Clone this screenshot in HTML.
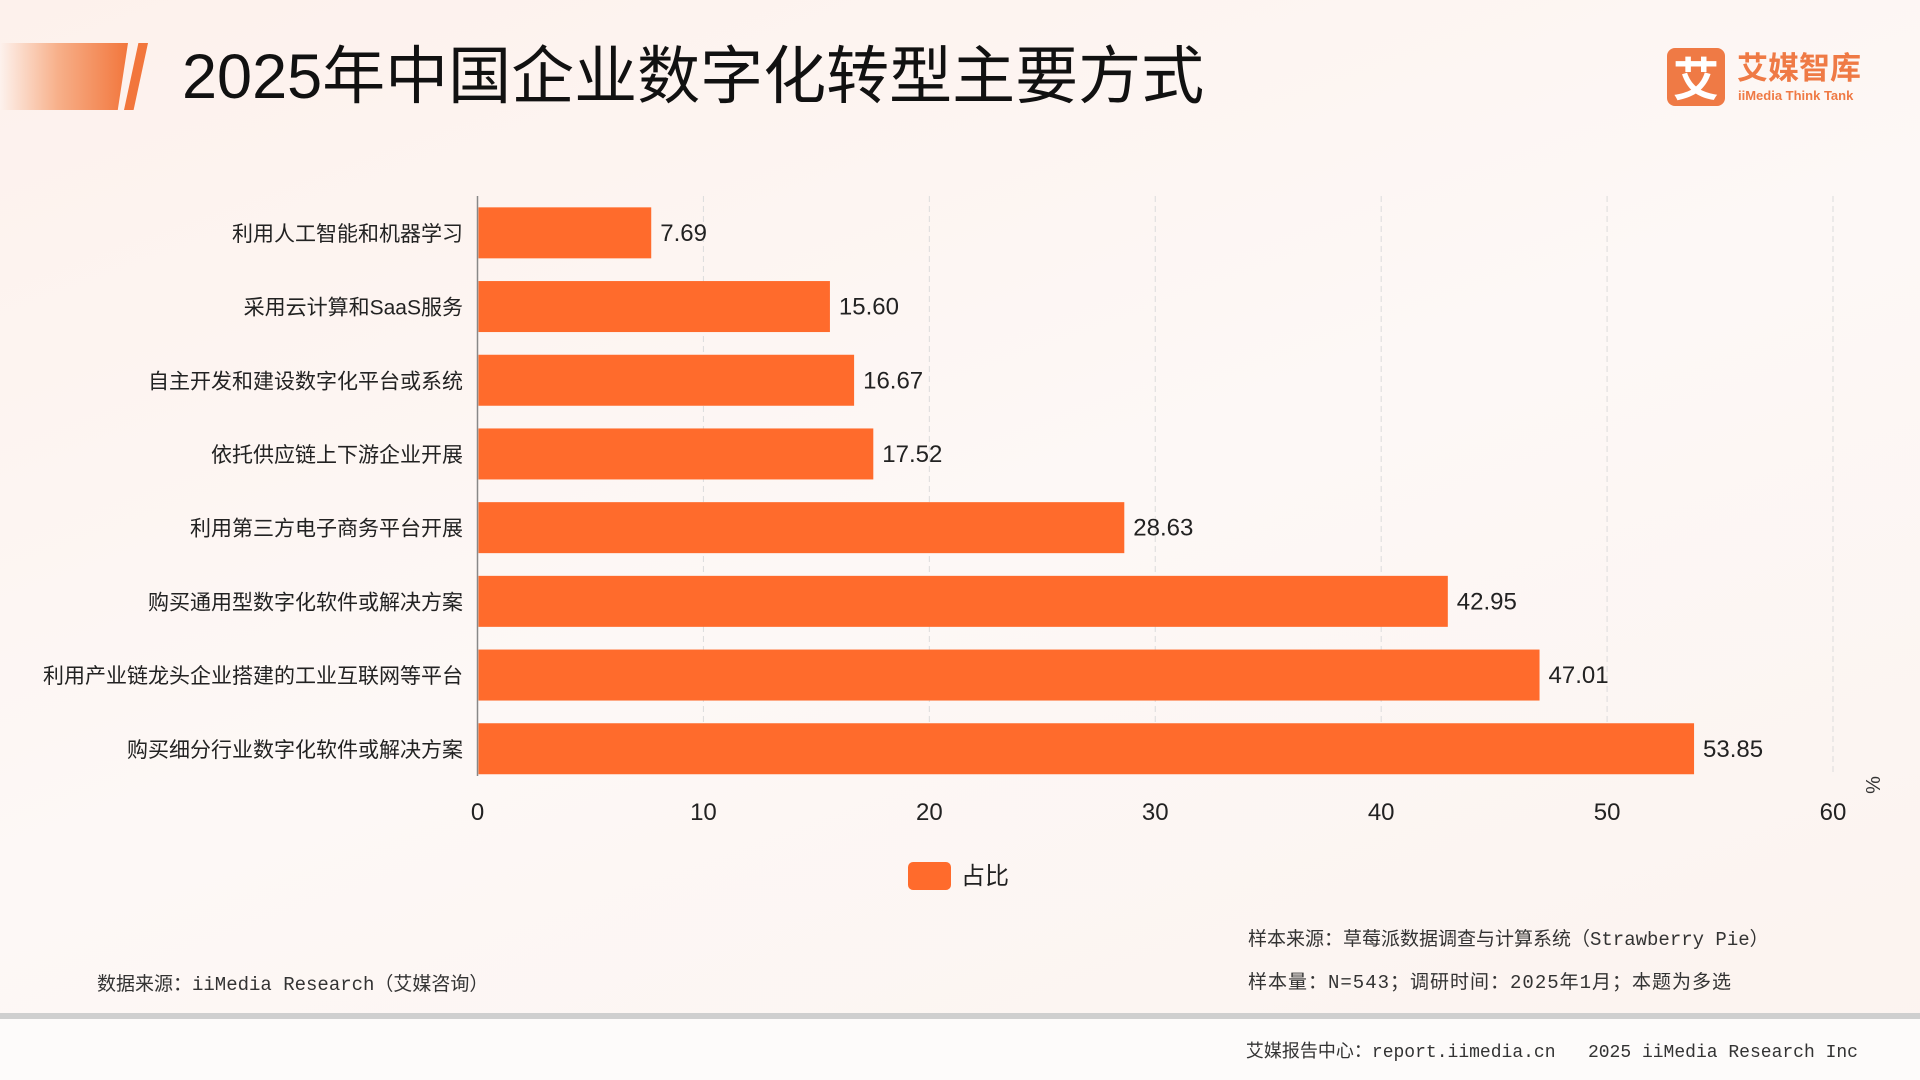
<!DOCTYPE html>
<html><head><meta charset="utf-8">
<style>
html,body{margin:0;padding:0;}
body{width:1920px;height:1080px;position:relative;overflow:hidden;font-family:"Liberation Sans","Noto Sans CJK SC",sans-serif;background:linear-gradient(160deg,#fdf1ec 0%,#fdf8f6 50%,#fcf3ef 100%);}
.abs{position:absolute;}
</style></head><body>
<div class="abs" style="left:0;top:43px;width:128px;height:67px;background:linear-gradient(90deg,rgba(255,240,232,0) 0%,#f7b08a 45%,#f2763c 100%);clip-path:polygon(0 0,100% 0,92% 100%,0 100%);"></div>
<div class="abs" style="left:124px;top:43px;width:24px;height:67px;background:#f2763c;clip-path:polygon(60% 0,100% 0,40% 100%,0 100%);"></div>
<div class="abs" style="left:182px;top:38px;font-size:63px;color:#111;white-space:nowrap;line-height:78px;">2025年中国企业数字化转型主要方式</div>
<div class="abs" style="left:1667px;top:48px;width:58px;height:58px;background:#ef7a45;border-radius:8px;color:#fff;font-size:46px;line-height:58px;text-align:center;font-family:'Noto Sans CJK SC',sans-serif;font-weight:bold;">艾</div>
<div class="abs" style="left:1737px;top:48px;color:#ef7a45;font-size:31px;font-weight:bold;line-height:36px;font-family:'Noto Sans CJK SC',sans-serif;">艾媒智库</div>
<div class="abs" style="left:1738px;top:88px;color:#ef7a45;font-size:13px;font-weight:bold;">iiMedia Think Tank</div>
<svg class="abs" style="left:0;top:0" width="1920" height="1080" id="chart"></svg>
<div class="abs" style="left:1248px;top:924px;font-size:19px;color:#333;white-space:nowrap;font-family:'Liberation Mono','Noto Sans CJK SC',monospace;">样本来源：草莓派数据调查与计算系统（Strawberry Pie）</div>
<div class="abs" style="left:1248px;top:967px;font-size:19px;color:#333;white-space:nowrap;letter-spacing:1px;font-family:'Liberation Mono','Noto Sans CJK SC',monospace;">样本量：N=543；调研时间：2025年1月；本题为多选</div>
<div class="abs" style="left:97px;top:969px;font-size:19px;color:#333;white-space:nowrap;font-family:'Liberation Mono','Noto Sans CJK SC',monospace;">数据来源：iiMedia Research（艾媒咨询）</div>
<div class="abs" style="left:0;top:1013px;width:1920px;height:6px;background:#cfcfcf;"></div>
<div class="abs" style="left:0;top:1019px;width:1920px;height:61px;background:#fdfbfa;"></div>
<div class="abs" style="right:62px;top:1037px;font-size:18px;color:#333;white-space:nowrap;font-family:'Liberation Mono','Noto Sans CJK SC',monospace;">艾媒报告中心：report.iimedia.cn &nbsp; 2025 iiMedia Research Inc</div>
<script>
const categories=["利用人工智能和机器学习","采用云计算和SaaS服务","自主开发和建设数字化平台或系统","依托供应链上下游企业开展","利用第三方电子商务平台开展","购买通用型数字化软件或解决方案","利用产业链龙头企业搭建的工业互联网等平台","购买细分行业数字化软件或解决方案"];
const values=[7.69,15.60,16.67,17.52,28.63,42.95,47.01,53.85];
const valueLabels=["7.69","15.60","16.67","17.52","28.63","42.95","47.01","53.85"];
const ticks=[0,10,20,30,40,50,60];
const svg=document.getElementById('chart');
const NS='http://www.w3.org/2000/svg';
const x0=477.5,x1=1833,xMax=60,top0=196,bandH=73.7;
const xs=v=>x0+(x1-x0)*v/xMax;
const yc=i=>top0+bandH*(i+0.5);
function mk(t,a){const e=document.createElementNS(NS,t);for(const k in a)e.setAttribute(k,a[k]);svg.appendChild(e);return e;}
ticks.forEach(t=>{
 if(t>0){const g=mk('line',{x1:xs(t),x2:xs(t),y1:top0,y2:774,stroke:'#dcdcdc','stroke-dasharray':'6,4','stroke-width':1});
 
 }
 const l=mk('text',{x:xs(t),y:820,'font-size':24,'text-anchor':'middle',fill:'#222'});l.textContent=t;
 
 
});
const ax=mk('line',{x1:x0,x2:x0,y1:top0,y2:776,stroke:'#888','stroke-width':1.5});


categories.forEach((c,i)=>{
 const b=mk('rect',{x:x0+1,y:yc(i)-25.5,width:xs(values[i])-x0-1,height:51,fill:'#ff6b2c'});
 
 
 const cl=mk('text',{x:463,y:yc(i)+8,'font-size':21,'text-anchor':'end',fill:'#222'});cl.textContent=c;
 
 
 const vl=mk('text',{x:xs(values[i])+9,y:yc(i)+8,'font-size':24,fill:'#222'});vl.textContent=valueLabels[i];
 
 
});
const pc=mk('text',{x:1880,y:785,'font-size':20,fill:'#333',transform:'rotate(-90 1880 785)','text-anchor':'middle'});pc.textContent='%';


const ls=mk('rect',{x:908,y:862,width:43,height:28,rx:5,fill:'#ff6b2c'});


const lt=mk('text',{x:961,y:884,'font-size':24,fill:'#222'});lt.textContent='占比';


</script>
</body></html>
